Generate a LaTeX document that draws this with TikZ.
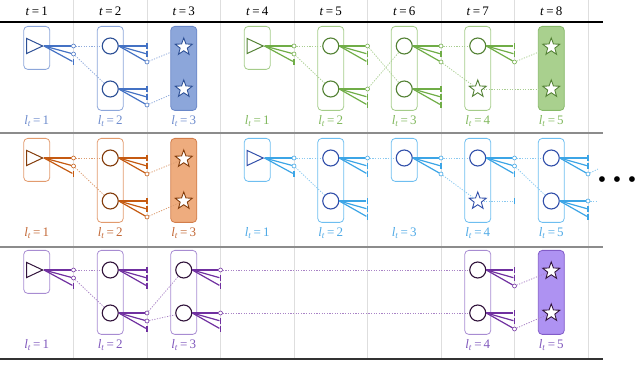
\documentclass[tikz,border=0pt]{standalone}
\usepackage{fontspec}
\setmainfont{Liberation Serif}
\usetikzlibrary{shapes.geometric, arrows.meta}
\tikzset{
  % colour sets, one per run
  blueset/.code={\definecolor{ink}{RGB}{68,114,196}\definecolor{rim}{RGB}{140,166,218}%
    \definecolor{core}{RGB}{45,80,150}\definecolor{fillc}{RGB}{140,166,218}%
    \definecolor{edgec}{RGB}{105,135,200}\definecolor{tagc}{RGB}{110,140,205}},
  greenset/.code={\definecolor{ink}{RGB}{112,173,71}\definecolor{rim}{RGB}{165,204,138}%
    \definecolor{core}{RGB}{84,130,53}\definecolor{fillc}{RGB}{169,208,142}%
    \definecolor{edgec}{RGB}{135,185,105}\definecolor{tagc}{RGB}{130,185,95}},
  orangeset/.code={\definecolor{ink}{RGB}{197,90,17}\definecolor{rim}{RGB}{226,155,110}%
    \definecolor{core}{RGB}{131,60,11}\definecolor{fillc}{RGB}{238,172,126}%
    \definecolor{edgec}{RGB}{210,125,75}\definecolor{tagc}{RGB}{195,105,55}},
  skyset/.code={\definecolor{ink}{RGB}{60,165,230}\definecolor{rim}{RGB}{110,190,240}%
    \definecolor{core}{RGB}{50,80,170}\definecolor{fillc}{RGB}{110,190,240}%
    \definecolor{edgec}{RGB}{80,170,230}\definecolor{tagc}{RGB}{80,170,230}},
  purpleset/.code={\definecolor{ink}{RGB}{112,48,160}\definecolor{rim}{RGB}{168,140,210}%
    \definecolor{core}{RGB}{50,20,60}\definecolor{fillc}{RGB}{174,146,242}%
    \definecolor{edgec}{RGB}{130,92,200}\definecolor{tagc}{RGB}{128,88,188}},
  % boxes and units
  cell/.style={draw=rim, line width=0.8pt, rounded corners=4pt,
    minimum width=26pt, inner sep=0pt, anchor=north},
  goal/.style={cell, fill=fillc, draw=edgec},
  neuron/.style={circle, draw=core, line width=1.1pt, fill=white,
    minimum size=16pt, inner sep=0pt},
  seed/.style={isosceles triangle, isosceles triangle stretches, draw=core,
    line width=1pt, minimum width=15pt, minimum height=16pt, inner sep=0pt},
  target/.style={star, star points=5, star point ratio=2.4, draw=core, fill=white,
    line width=0.9pt, minimum size=18pt, inner sep=0pt},
  % wire ends
  port/.style={circle, draw=ink, fill=white, line width=0.6pt,
    minimum size=4pt, inner sep=0pt},
  stub/.style={rectangle, fill=ink, minimum width=1.8pt, minimum height=6.5pt,
    inner sep=0pt},
  wire/.style={draw=ink, line width=1.2pt},
  link/.style={draw=ink!60, line width=0.8pt, dash pattern=on 1.2pt off 1.4pt},
  % text and frame
  head/.style={font=\fontsize{13}{15}\selectfont},
  tag/.style={text=tagc, font=\fontsize{13}{15}\selectfont},
  grid/.style={draw=black!13, line width=0.8pt},
  rule/.style={line width=1.3pt},
}
\newcommand{\layertag}[1]{\textit{l}\textsubscript{\textit{t}}\,=\,#1}
% box with the input triangle: name, column, row
\newcommand{\seedcell}[3]{%
  \node[cell, minimum height=43pt] (#1box) at ({73.5*#2-36.75},#3-20) {};
  \node[seed, anchor=apex] (#1) at ({73.5*#2-29.5},#3) {};
}
% three wires from a unit to the next grid line: source, column, y, ends
\newcommand{\fan}[6]{%
  \node[#4] (#1a) at ({73.5*#2},#3) {};
  \node[#5] (#1b) at ({73.5*#2},#3+8) {};
  \node[#6] (#1c) at ({73.5*#2},#3+16) {};
  \foreach \e in {a,b,c} \draw[wire] (#1.east) -- (#1\e);
}

\begin{document}
\begin{tikzpicture}[x=1pt, y=-1pt]
  \useasboundingbox (0,0) rectangle (640,379);

  %% grid and header
  \foreach \k in {1,...,8} \draw[grid] ({73.5*\k},0) -- ({73.5*\k},359);
  \foreach \k in {1,...,8}
    \node[head] (head\k) at ({73.5*\k-36.75},11) {\textit{t}\,=\,\k};
  \draw[rule, black] (0,22) -- (603,22);
  \draw[rule, black!45] (0,133) -- (603,133);
  \draw[rule, black!45] (0,247) -- (603,247);
  \draw[rule, black!80] (0,359) -- (603,359);

  %% row 1, first run
  \begin{scope}[blueset]
    \seedcell{b1}{1}{46}
    \fan{b1}{1}{46}{port}{port}{stub}
    \node[cell, minimum height=84pt] (b2box) at (110.25,26) {};
    \node[neuron] (b2a) at (110.25,46) {};
    \node[neuron] (b2b) at (110.25,89) {};
    \fan{b2a}{2}{46}{stub}{stub}{port}
    \fan{b2b}{2}{89}{stub}{stub}{port}
    \node[goal, minimum height=84pt] (b3box) at (183.75,26) {};
    \node[target] (b3a) at (183.75,47) {};
    \node[target] (b3b) at (183.75,89) {};
    \draw[link] (b1a) -- (b2a);
    \draw[link] (b1b) -- (b2b);
    \draw[link] (b2ac) -- (b3a);
    \draw[link] (b2bc) -- (b3b);
    \node[tag] (b1tag) at (36.75,121) {\layertag{1}};
    \node[tag] (b2tag) at (110.25,121) {\layertag{2}};
    \node[tag] (b3tag) at (183.75,121) {\layertag{3}};
  \end{scope}

  %% row 1, second run
  \begin{scope}[greenset]
    \seedcell{g4}{4}{46}
    \fan{g4}{4}{46}{port}{port}{stub}
    \node[cell, minimum height=84pt] (g5box) at (330.75,26) {};
    \node[neuron] (g5a) at (330.75,46) {};
    \node[neuron] (g5b) at (330.75,89) {};
    \fan{g5a}{5}{46}{port}{stub}{stub}
    \fan{g5b}{5}{89}{port}{stub}{stub}
    \node[cell, minimum height=84pt] (g6box) at (404.25,26) {};
    \node[neuron] (g6a) at (404.25,46) {};
    \node[neuron] (g6b) at (404.25,89) {};
    \fan{g6a}{6}{46}{port}{stub}{port}
    \fan{g6b}{6}{89}{stub}{stub}{stub}
    \node[cell, minimum height=84pt] (g7box) at (477.75,26) {};
    \node[neuron] (g7a) at (477.75,46) {};
    \node[target] (g7b) at (477.75,89) {};
    \fan{g7a}{7}{46}{stub}{stub}{port}
    \node[goal, minimum height=84pt] (g8box) at (551.25,26) {};
    \node[target] (g8a) at (551.25,47) {};
    \node[target] (g8b) at (551.25,89) {};
    \draw[link] (g4a) -- (g5a);
    \draw[link] (g4b) -- (g5b);
    \draw[link] (g5aa) -- (g6b);
    \draw[link] (g5ba) -- (g6a);
    \draw[link] (g6aa) -- (g7a);
    \draw[link] (g6ac) -- (g7b);
    \draw[link] (g7ac) -- (g8a);
    \draw[link] (g7b) -- (g8b);
    \node[tag] (g4tag) at (257.25,121) {\layertag{1}};
    \node[tag] (g5tag) at (330.75,121) {\layertag{2}};
    \node[tag] (g6tag) at (404.25,121) {\layertag{3}};
    \node[tag] (g7tag) at (477.75,121) {\layertag{4}};
    \node[tag] (g8tag) at (551.25,121) {\layertag{5}};
  \end{scope}

  %% row 2, first run
  \begin{scope}[orangeset]
    \seedcell{o1}{1}{158}
    \fan{o1}{1}{158}{port}{port}{stub}
    \node[cell, minimum height=84pt] (o2box) at (110.25,138) {};
    \node[neuron] (o2a) at (110.25,158) {};
    \node[neuron] (o2b) at (110.25,201) {};
    \fan{o2a}{2}{158}{stub}{stub}{port}
    \fan{o2b}{2}{201}{stub}{stub}{port}
    \node[goal, minimum height=84pt] (o3box) at (183.75,138) {};
    \node[target] (o3a) at (183.75,159) {};
    \node[target] (o3b) at (183.75,201) {};
    \draw[link] (o1a) -- (o2a);
    \draw[link] (o1b) -- (o2b);
    \draw[link] (o2ac) -- (o3a);
    \draw[link] (o2bc) -- (o3b);
    \node[tag] (o1tag) at (36.75,233) {\layertag{1}};
    \node[tag] (o2tag) at (110.25,233) {\layertag{2}};
    \node[tag] (o3tag) at (183.75,233) {\layertag{3}};
  \end{scope}

  %% row 2, second run
  \begin{scope}[skyset]
    \seedcell{s4}{4}{158}
    \fan{s4}{4}{158}{port}{port}{stub}
    \node[cell, minimum height=84pt] (s5box) at (330.75,138) {};
    \node[neuron] (s5a) at (330.75,158) {};
    \node[neuron] (s5b) at (330.75,201) {};
    \fan{s5a}{5}{158}{port}{stub}{stub}
    \fan{s5b}{5}{201}{stub}{stub}{stub}
    \node[cell, minimum height=43pt] (s6box) at (404.25,138) {};
    \node[neuron] (s6a) at (404.25,158) {};
    \fan{s6a}{6}{158}{port}{stub}{port}
    \node[cell, minimum height=84pt] (s7box) at (477.75,138) {};
    \node[neuron] (s7a) at (477.75,158) {};
    \node[target] (s7b) at (477.75,201) {};
    \fan{s7a}{7}{158}{port}{port}{stub}
    \node[stub] (s7bend) at (514.5,201) {};
    \node[cell, minimum height=84pt] (s8box) at (551.25,138) {};
    \node[neuron] (s8a) at (551.25,158) {};
    \node[neuron] (s8b) at (551.25,201) {};
    \fan{s8a}{8}{158}{stub}{stub}{port}
    \fan{s8b}{8}{201}{port}{stub}{stub}
    \coordinate (s8out1) at (598,169);
    \coordinate (s8out2) at (598,201);
    \draw[link] (s4a) -- (s5a);
    \draw[link] (s4b) -- (s5b);
    \draw[link] (s5aa) -- (s6a);
    \draw[link] (s6aa) -- (s7a);
    \draw[link] (s6ac) -- (s7b);
    \draw[link] (s7b) -- (s7bend);
    \draw[link] (s7aa) -- (s8a);
    \draw[link] (s7ab) -- (s8b);
    \draw[link] (s8ac) -- (s8out1);
    \draw[link] (s8ba) -- (s8out2);
    \node[tag] (s4tag) at (257.25,233) {\layertag{1}};
    \node[tag] (s5tag) at (330.75,233) {\layertag{2}};
    \node[tag] (s6tag) at (404.25,233) {\layertag{3}};
    \node[tag] (s7tag) at (477.75,233) {\layertag{4}};
    \node[tag] (s8tag) at (551.25,233) {\layertag{5}};
  \end{scope}
  \node[font=\fontsize{24}{24}\selectfont, inner sep=0pt] (more) at (617,182)
    {\textbullet\hspace{6.6pt}\textbullet\hspace{6.6pt}\textbullet};

  %% row 3
  \begin{scope}[purpleset]
    \seedcell{p1}{1}{270}
    \fan{p1}{1}{270}{port}{port}{stub}
    \node[cell, minimum height=84pt] (p2box) at (110.25,250) {};
    \node[neuron] (p2a) at (110.25,270) {};
    \node[neuron] (p2b) at (110.25,313) {};
    \fan{p2a}{2}{270}{stub}{stub}{stub}
    \fan{p2b}{2}{313}{port}{port}{stub}
    \node[cell, minimum height=84pt] (p3box) at (183.75,250) {};
    \node[neuron] (p3a) at (183.75,270) {};
    \node[neuron] (p3b) at (183.75,313) {};
    \fan{p3a}{3}{270}{port}{stub}{stub}
    \fan{p3b}{3}{313}{port}{stub}{stub}
    \node[cell, minimum height=84pt] (p7box) at (477.75,250) {};
    \node[neuron] (p7a) at (477.75,270) {};
    \node[neuron] (p7b) at (477.75,313) {};
    \fan{p7a}{7}{270}{stub}{stub}{port}
    \fan{p7b}{7}{313}{stub}{stub}{port}
    \node[goal, minimum height=84pt] (p8box) at (551.25,250) {};
    \node[target] (p8a) at (551.25,271) {};
    \node[target] (p8b) at (551.25,313) {};
    \draw[link] (p1a) -- (p2a);
    \draw[link] (p1b) -- (p2b);
    \draw[link] (p2ba) -- (p3a);
    \draw[link] (p2bb) -- (p3b);
    \draw[link] (p3aa) -- (p7a);
    \draw[link] (p3ba) -- (p7b);
    \draw[link] (p7ac) -- (p8a);
    \draw[link] (p7bc) -- (p8b);
    \node[tag] (p1tag) at (36.75,345) {\layertag{1}};
    \node[tag] (p2tag) at (110.25,345) {\layertag{2}};
    \node[tag] (p3tag) at (183.75,345) {\layertag{3}};
    \node[tag] (p7tag) at (477.75,345) {\layertag{4}};
    \node[tag] (p8tag) at (551.25,345) {\layertag{5}};
  \end{scope}
\end{tikzpicture}
\end{document}
